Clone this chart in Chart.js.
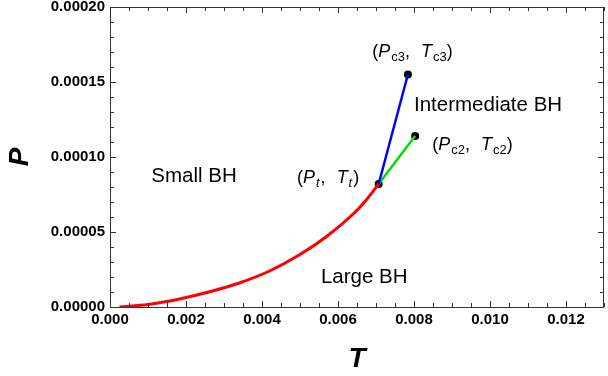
<!DOCTYPE html>
<html>
<head>
<meta charset="utf-8">
<script src="https://cdn.jsdelivr.net/npm/chart.js@4.4.1/dist/chart.umd.min.js"></script>
<style>
html, body { margin: 0; padding: 0; background: #fff; }
</style>
</head>
<body>
<canvas id="phaseChart" width="608" height="376"></canvas>
<script>

// coexistence line small/large BH (red)
var redT = [0.00025, 0.0010, 0.0018, 0.0026, 0.0034, 0.0042, 0.0050, 0.0057, 0.0064, 0.0067, 0.00707];
var redP = [0, 0.0000017, 0.0000052, 0.0000100, 0.0000160, 0.0000240, 0.0000350, 0.0000470, 0.0000620, 0.0000700, 0.0000820];

// triple point -> critical point c3 (blue)
var blueT = [0.00707, 0.00784];
var blueP = [0.0000820, 0.000155];

// triple point -> critical point c2 (green)
var greenT = [0.00707, 0.00803];
var greenP = [0.0000820, 0.000114];

// marked points: triple point, c3, c2
var dotT = [0.00707, 0.00784, 0.00803];
var dotP = [0.0000820, 0.000155, 0.000114];

var xTickValues = [0, 0.002, 0.004, 0.006, 0.008, 0.010, 0.012];
var yTickValues = [0, 0.00005, 0.00010, 0.00015, 0.00020];

function toPoints(xs, ys) {
    return xs.map(function (x, i) { return { x: x, y: ys[i] }; });
}

var FONT = '"Liberation Sans", Arial, sans-serif';

// draws a label made of pieces (italic letters, subscripts)
function drawRich(ctx, parts, x, y, align) {
    var total = 0;
    parts.forEach(function (p) {
        ctx.font = p.font;
        p.w = ctx.measureText(p.text).width + (p.gap || 0);
        total += p.w;
    });
    var cx = align === 'center' ? x - total / 2 : x;
    ctx.textAlign = 'left';
    ctx.textBaseline = 'alphabetic';
    parts.forEach(function (p) {
        ctx.font = p.font;
        ctx.fillText(p.text, cx, y + (p.dy || 0));
        cx += p.w;
    });
}

var M = '18px ' + FONT, I = 'italic 18px ' + FONT;
var S = '13px ' + FONT, SI = 'italic 13px ' + FONT;
var BIG = '20.5px ' + FONT;

var labels = [
    { T: 0.00221, P: 0.0000835, align: 'center', parts: [{ text: 'Small BH', font: BIG }] },
    { T: 0.00669, P: 0.0000160, align: 'center', parts: [{ text: 'Large BH', font: BIG }] },
    { T: 0.00800, P: 0.0001307, align: 'left', parts: [{ text: 'Intermediate BH', font: BIG }] },
    { T: 0.00796, P: 0.0001669, align: 'center', parts: [
        { text: '(', font: M }, { text: 'P', font: I, gap: 1 }, { text: 'c3', font: S, dy: 4 },
        { text: ',', font: M, gap: 11 }, { text: 'T', font: I, gap: 1 }, { text: 'c3', font: S, dy: 4 },
        { text: ')', font: M }] },
    { T: 0.00954, P: 0.0001047, align: 'center', parts: [
        { text: '(', font: M }, { text: 'P', font: I, gap: 1 }, { text: 'c2', font: S, dy: 4 },
        { text: ',', font: M, gap: 11 }, { text: 'T', font: I, gap: 1 }, { text: 'c2', font: S, dy: 4 },
        { text: ')', font: M }] },
    { T: 0.00574, P: 0.0000827, align: 'center', parts: [
        { text: '(', font: M }, { text: 'P', font: I, gap: 1 }, { text: 't', font: SI, dy: 4, gap: 1 },
        { text: ',', font: M, gap: 11 }, { text: 'T', font: I, gap: 1 }, { text: 't', font: SI, dy: 4, gap: 1 },
        { text: ')', font: M }] }
];

// frame with inward ticks on all four sides, plus the text labels
var frameTicks = {
    id: 'frameTicks',
    afterDraw: function (chart) {
        var ctx = chart.ctx, a = chart.chartArea;
        var xs = chart.scales.x, ys = chart.scales.y;
        var i, v, px, len;
        ctx.save();
        ctx.strokeStyle = '#333';
        ctx.lineWidth = 1;
        ctx.strokeRect(a.left + 0.5, a.top + 0.5, a.right - a.left - 1, a.bottom - a.top);

        ctx.beginPath();
        for (i = 0; i <= 26; i++) {
            v = i * 0.0005;
            px = Math.round(xs.getPixelForValue(v)) + 0.5;
            len = (i % 4 === 0) ? 6 : 4;
            ctx.moveTo(px, a.bottom); ctx.lineTo(px, a.bottom - len);
            ctx.moveTo(px, a.top); ctx.lineTo(px, a.top + len);
        }
        for (i = 0; i <= 20; i++) {
            v = i * 0.00001;
            px = Math.round(ys.getPixelForValue(v)) + 0.5;
            len = (i % 5 === 0) ? 6 : 4;
            ctx.moveTo(a.left, px); ctx.lineTo(a.left + len, px);
            ctx.moveTo(a.right, px); ctx.lineTo(a.right - len, px);
        }
        ctx.stroke();

        ctx.fillStyle = '#000';
        labels.forEach(function (l) {
            drawRich(ctx, l.parts, xs.getPixelForValue(l.T), ys.getPixelForValue(l.P), l.align);
        });
        ctx.restore();
    }
};

var ctx = document.getElementById('phaseChart').getContext('2d');

var myChart = new Chart(ctx, {
    type: 'scatter',
    data: {
        datasets: [
            {
                data: toPoints(redT, redP),
                showLine: true,
                borderColor: '#ff0000',
                borderWidth: 3,
                pointRadius: 0,
                cubicInterpolationMode: 'monotone'
            },
            {
                data: toPoints(blueT, blueP),
                showLine: true,
                borderColor: '#0000ff',
                borderWidth: 2.5,
                pointRadius: 0
            },
            {
                data: toPoints(greenT, greenP),
                showLine: true,
                borderColor: '#00e000',
                borderWidth: 2.5,
                pointRadius: 0
            },
            {
                data: toPoints(dotT, dotP),
                showLine: false,
                backgroundColor: '#000',
                borderColor: '#000',
                pointRadius: 4,
                borderWidth: 0
            }
        ]
    },
    options: {
        responsive: false,
        animation: false,
        layout: { padding: { top: 7, right: 2, left: 0, bottom: 0 } },
        plugins: {
            legend: { display: false },
            tooltip: { enabled: false }
        },
        scales: {
            x: {
                type: 'linear',
                min: 0,
                max: 0.013,
                border: { display: false },
                grid: { display: false, drawTicks: false },
                afterBuildTicks: function (scale) {
                    scale.ticks = xTickValues.map(function (v) { return { value: v }; });
                },
                afterFit: function (scale) {
                    scale.height = 69;
                    scale.paddingLeft = 0;
                    scale.paddingRight = 0;
                },
                ticks: {
                    padding: 4,
                    color: '#000',
                    maxRotation: 0,
                    autoSkip: false,
                    font: { family: FONT, size: 15, weight: 'bold' },
                    callback: function (v) { return v.toFixed(3); }
                },
                title: {
                    display: true,
                    text: 'T',
                    color: '#000',
                    padding: { top: 0, bottom: 0 },
                    font: { family: FONT, size: 28, weight: 'bold', style: 'italic' }
                }
            },
            y: {
                type: 'linear',
                min: 0,
                max: 0.0002,
                border: { display: false },
                grid: { display: false, drawTicks: false },
                afterBuildTicks: function (scale) {
                    scale.ticks = yTickValues.map(function (v) { return { value: v }; });
                },
                afterFit: function (scale) {
                    scale.width = 110;
                    scale.paddingTop = 0;
                    scale.paddingBottom = 0;
                },
                ticks: {
                    padding: 5,
                    color: '#000',
                    autoSkip: false,
                    font: { family: FONT, size: 15, weight: 'bold' },
                    callback: function (v) { return v.toFixed(5); }
                },
                title: {
                    display: true,
                    text: 'P',
                    color: '#000',
                    padding: { top: 3, bottom: 0 },
                    font: { family: FONT, size: 28, weight: 'bold', style: 'italic' }
                }
            }
        }
    },
    plugins: [frameTicks]
});
</script>
</body>
</html>
